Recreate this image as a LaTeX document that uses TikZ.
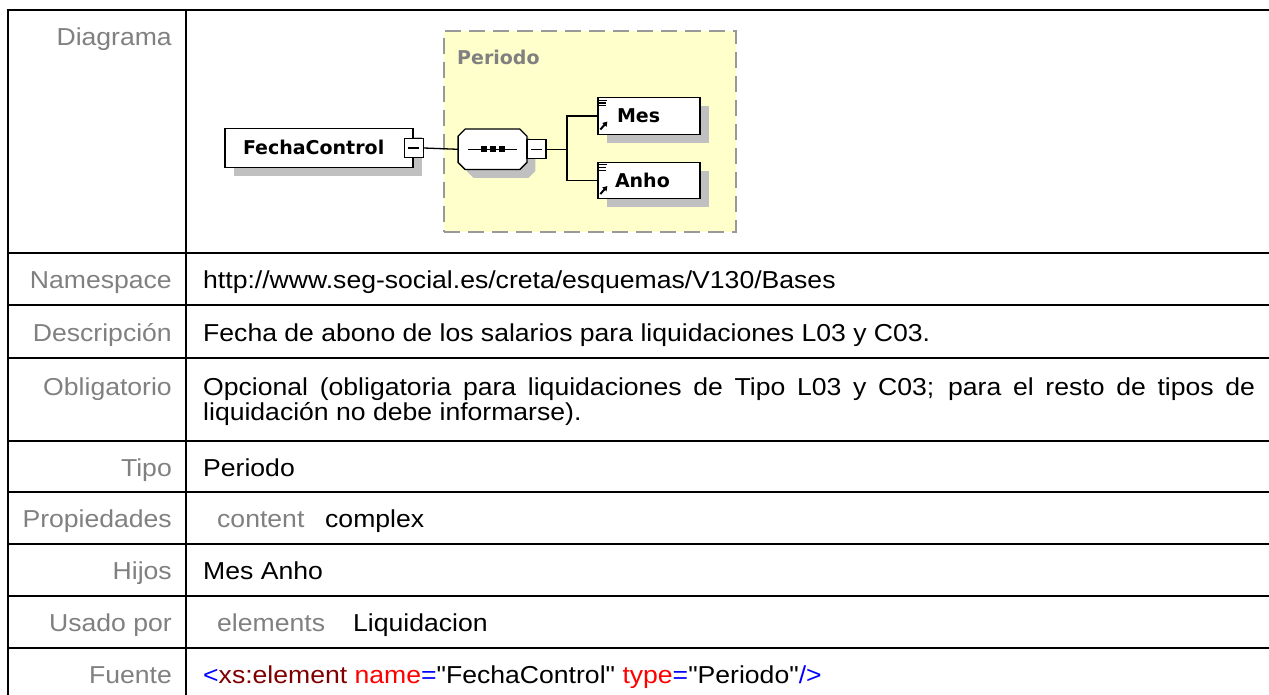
\documentclass[tikz,border=0pt]{standalone}
\usepackage{fontspec}
\setmainfont{Liberation Sans}[FakeStretch=1.085, Ligatures=TeXOff]
\newfontfamily\diagfont{DejaVu Sans}
\usetikzlibrary{shadows,arrows.meta}

\definecolor{labelgray}{HTML}{808080}
\definecolor{typeyellow}{HTML}{FFFFCC}
\definecolor{shadowgray}{HTML}{C0C0C0}
\definecolor{dashgray}{HTML}{999999}
\definecolor{xmlblue}{HTML}{0000FF}
\definecolor{xmlred}{HTML}{FF0000}
\definecolor{xmlmaroon}{HTML}{800000}

\tikzset{
	tableline/.style={line width=2.5pt},
	rowlabel/.style={anchor=base east, text=labelgray, inner sep=0pt},
	rowtext/.style={anchor=base west, inner sep=0pt},
	diagtext/.style={font=\diagfont\bfseries\fontsize{19}{19}\selectfont},
	elembox/.style={diagtext, draw, fill=white, line width=1.3pt, inner sep=0pt, align=left,
		text height=14pt, text depth=0pt,
		general shadow={fill=shadowgray, shadow xshift=8.5pt, shadow yshift=-8.5pt}},
	minusbox/.style={draw, fill=white, line width=1.3pt, minimum size=19pt, inner sep=0pt,
		path picture={\draw[line width=1.3pt] ([xshift=4pt]path picture bounding box.west) -- ([xshift=-4pt]path picture bounding box.east);}},
	conn/.style={line width=1.3pt},
}

\begin{document}
\begin{tikzpicture}[x=1pt, y=-1pt, font=\fontsize{24.5}{25.5}\selectfont]

		\useasboundingbox (0,0) rectangle (1269,695);

		\draw[tableline] (8,695) -- (8,10) -- (1269,10);
		\draw[tableline] (186,10) -- (186,695);
		\foreach \y in {253,305,358,441,492,544,596,648}
			\draw[tableline] (8,\y) -- (1269,\y);

		\node[rowlabel] (lbldiag) at (172,46) {Diagrama};
		\node[rowlabel] (lblns) at (172,288) {Namespace};
		\node[rowlabel] (lbldesc) at (172,341) {Descripción};
		\node[rowlabel] (lblobl) at (172,395) {Obligatorio};
		\node[rowlabel] (lbltipo) at (172,476) {Tipo};
		\node[rowlabel] (lblprop) at (172,527) {Propiedades};
		\node[rowlabel] (lblhijos) at (172,579) {Hijos};
		\node[rowlabel] (lblusado) at (172,631) {Usado por};
		\node[rowlabel] (lblfuente) at (172,683) {Fuente};

		\node[rowtext] (valns) at (203,288) {http://www.seg-social.es/creta/esquemas/V130/Bases};
		\node[rowtext] (valdesc) at (203,341) {Fecha de abono de los salarios para liquidaciones L03 y C03.};
		\node[rowtext, text width=1052pt, align=justify] (valobl) at (203,395)
			{Opcional (obligatoria para liquidaciones de Tipo L03 y C03; para el resto de tipos de\linebreak liquidación no debe informarse).};
		\node[rowtext] (valtipo) at (203,476) {Periodo};
		\node[rowtext, text=labelgray] (propkey) at (217,527) {content};
		\node[rowtext] (propval) at (325,527) {complex};
		\node[rowtext] (valhijos) at (203,579) {Mes Anho};
		\node[rowtext, text=labelgray] (usadokey) at (217,631) {elements};
		\node[rowtext] (usadoval) at (353,631) {Liquidacion};
		\node[rowtext] (valsrc) at (203,683) {\textcolor{xmlblue}{<}\textcolor{xmlmaroon}{xs:element} \textcolor{xmlred}{name}\textcolor{xmlblue}{=}"FechaControl" \textcolor{xmlred}{type}\textcolor{xmlblue}{=}"Periodo"\textcolor{xmlblue}{/>}};

		\node[draw=dashgray, dash pattern=on 16pt off 8pt, line width=2pt, fill=typeyellow,
			minimum width=292pt, minimum height=201pt, inner sep=0pt] (periodo) at (590,131.5) {};
		\node[diagtext, text=labelgray, anchor=base west, inner sep=0pt] (periodolbl) at (457,65) {Periodo};

		\node[elembox, text width=188pt, minimum height=38.6pt] (fecha) at (319,148) {\hspace*{18pt}FechaControl};
		\node[minusbox] (fminus) at (fecha.east) {};

		\node[minimum width=68.4pt, minimum height=40pt, inner sep=0pt] (seq) at (492.5,149.3) {};
		\filldraw[fill=white, line width=1.3pt, general shadow={fill=shadowgray, shadow xshift=8.5pt, shadow yshift=-8.5pt}]
			([xshift=7pt]seq.north west) -- ([xshift=-7pt]seq.north east) -- ([yshift=-7pt]seq.north east)
			-- ([yshift=7pt]seq.south east) -- ([xshift=-7pt]seq.south east) -- ([xshift=7pt]seq.south west)
			-- ([yshift=7pt]seq.south west) -- ([yshift=-7pt]seq.north west) -- cycle;
		\draw[line width=1.5pt] ([xshift=-24.5pt]seq.center) -- ([xshift=24.5pt]seq.center);
		\foreach \dx in {-9,0,9}
			\fill ([xshift=\dx pt]seq.center) +(-3,-3) rectangle +(3,3);
		\node[minusbox] (sminus) at ([xshift=9.5pt]seq.east) {};

		\node[elembox, text width=102pt, minimum height=36.6pt] (mes) at (649,116) {\hspace*{19pt}Mes};
		\node[elembox, text width=102pt, minimum height=36.6pt] (anho) at (649,180.5) {\hspace*{17pt}Anho};

		\foreach \n in {mes,anho}{
			\draw[line width=1.3pt] ([shift={(2,3.3)}]\n.north west) -- +(8,0);
			\draw[line width=1.3pt] ([shift={(2,6)}]\n.north west) -- +(7,0);
			\draw[line width=1.3pt] ([shift={(2,8.7)}]\n.north west) -- +(7,0);
			\draw[line width=2pt, -{Triangle[length=4.5pt,width=5.5pt]}] ([shift={(3,32.5)}]\n.north west) -- ([shift={(10,24.5)}]\n.north west);
		}

		\coordinate (fork) at (567,149.3);
		\draw[conn] (fminus.east) -- (seq.west);
		\draw[conn] (sminus.east) -- (fork) |- (mes.west);
		\draw[conn] (fork) |- (anho.west);

	\end{tikzpicture}
\end{document}
